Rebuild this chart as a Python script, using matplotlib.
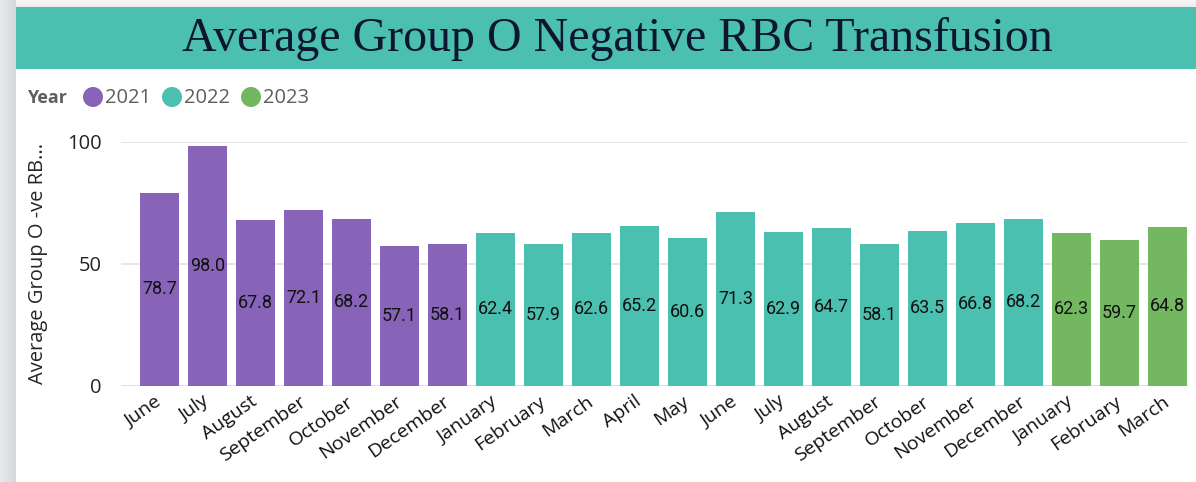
import numpy as np
import matplotlib.pyplot as plt
from matplotlib.patches import Rectangle, Circle
from matplotlib.colors import LinearSegmentedColormap
import matplotlib.transforms as mtrans

# monthly averages, June 2021 - March 2023
months = ["June", "July", "August", "September", "October", "November", "December",
          "January", "February", "March", "April", "May", "June", "July", "August",
          "September", "October", "November", "December",
          "January", "February", "March"]
values = [78.7, 98.0, 67.8, 72.1, 68.2, 57.1, 58.1,
          62.4, 57.9, 62.6, 65.2, 60.6, 71.3, 62.9, 64.7, 58.1, 63.5, 66.8, 68.2,
          62.3, 59.7, 64.8]
years = ["2021"] * 7 + ["2022"] * 12 + ["2023"] * 3
year_names = ["2021", "2022", "2023"]
year_colors = {"2021": "#8764B8", "2022": "#4BC0B1", "2023": "#73B761"}

W, H = 1196, 482
fig = plt.figure(figsize=(W / 100, H / 100), dpi=100)

# background layer in pixel coordinates
bg = fig.add_axes([0, 0, 1, 1], zorder=-1)
bg.set_xlim(0, W)
bg.set_ylim(H, 0)
bg.axis("off")
bg.imshow(np.linspace(0, 1, 50).reshape(1, -1), extent=(0, 16, H, 0),
          cmap=LinearSegmentedColormap.from_list("g", ["#E9EAEC", "#D6D7DA"]), aspect="auto")
bg.imshow(np.linspace(0, 1, 20).reshape(-1, 1), extent=(16, W, 7, 0),
          cmap=LinearSegmentedColormap.from_list("t", ["#F8F8F8", "#ECECEC"]), aspect="auto")
bg.add_patch(Rectangle((16, 7), W - 16, 62, color="#4BC0B1", lw=0))
bg.text(617, 39, "Average Group O Negative RBC Transfusion", family="Liberation Serif",
        fontsize=34.5, color="#0D1530", ha="center", va="center")

# legend
bg.text(27, 98, "Year", family="Open Sans", fontsize=13, fontweight="bold",
        color="#605E5C", ha="left", va="center")
lx = [93, 172, 251]
for x, name in zip(lx, year_names):
    bg.add_patch(Circle((x, 97), 10, color=year_colors[name], lw=0))
    bg.text(x + 12, 98, name, family="Open Sans", fontsize=14.5, color="#605E5C",
            ha="left", va="center")

# bars
ax = fig.add_axes([121 / W, (H - 385.5) / H, (1188 - 121) / W, 244 / H])
x = np.arange(len(values))
colors = [year_colors[y] for y in years]
ax.bar(x, values, width=0.81, color=colors, zorder=2)
for xi, v in zip(x, values):
    ax.text(xi, v / 2, f"{v:.1f}", family="Roboto", fontsize=13, color="#111111",
            ha="center", va="center", zorder=3)

ax.set_xlim(-0.802, 21.43)
ax.set_ylim(0, 100)
ax.set_yticks([0, 50, 100])
ax.set_yticklabels(["0", "50", "100"], family="Open Sans", fontsize=14.5, color="#252423")
ax.set_xticks(x)
ax.set_xticklabels([])
# month labels, rotated with the upper right corner just left of the bar centre
lab_tr = ax.get_xaxis_transform() + mtrans.ScaledTranslation(-5 / 100, -7 / 100, fig.dpi_scale_trans)
for xi, m in zip(x, months):
    ax.text(xi, 0, m, transform=lab_tr, rotation=35, ha="right", va="top",
            rotation_mode="anchor", family="Open Sans", fontsize=14, color="#111111")
ax.tick_params(axis="both", length=0)
ax.tick_params(axis="y", pad=14)
ax.grid(axis="y", color="#E6E6E6", lw=1.4, zorder=0)
ax.set_axisbelow(True)
for s in ax.spines.values():
    s.set_visible(False)
ax.axhline(0, color="#E0E0E0", lw=2.2, zorder=1)
ax.set_ylabel("Average Group O -ve RB...", family="Open Sans", fontsize=14.5,
              color="#252423")
ax.yaxis.set_label_coords(-73 / 1067, 0.5)
ax.patch.set_alpha(0)

fig.savefig("out.png", dpi=100)
